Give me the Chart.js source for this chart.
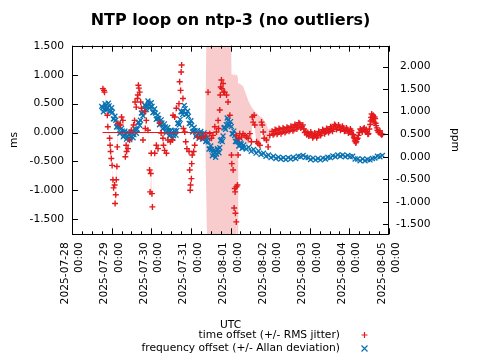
<!DOCTYPE html>
<html><head><meta charset="utf-8">
<script src="https://cdn.jsdelivr.net/npm/chart.js@4.4.1/dist/chart.umd.min.js"></script>
<style>html,body{margin:0;padding:0;background:#fff}canvas{display:block}</style>
</head><body>
<canvas id="c" width="480" height="360"></canvas>
<script>
// ---- data (hours since 2025-07-28 00:00 UTC) ----
const dayLabels = ['2025-07-28','2025-07-29','2025-07-30','2025-07-31','2025-08-01','2025-08-02','2025-08-03','2025-08-04','2025-08-05'];
const dayTimeLabel = '00:00';
const msTicks = [-1.5, -1.0, -0.5, 0, 0.5, 1.0, 1.5];
const ppmTicks = [-1.5, -1.0, -0.5, 0, 0.5, 1.0, 1.5, 2.0];

const offsetHours = [
 18.7,19.4,19.7,21.4,21.7,22.8,23.1,23.4,23.8,24.3,
 24.8,25.2,25.8,26.1,26.5,26.8,27.2,27.4,27.8,29.4,
 30.0,30.8,32.3,32.8,33.1,33.9,34.9,35.9,37.3,37.9,
 38.2,38.9,39.6,39.9,40.2,40.5,41.0,41.6,42.0,43.0,
 44.0,44.4,45.0,46.0,47.0,47.3,47.7,48.0,48.4,48.7,
 50.1,51.1,52.1,53.1,54.0,55.1,55.4,56.1,57.2,58.1,
 59.6,60.8,61.2,62.2,63.2,64.8,65.2,65.8,66.1,66.4,
 67.2,67.5,68.3,68.9,69.6,70.9,71.3,71.6,71.8,72.3,
 72.5,72.8,73.7,74.3,76.1,78.6,80.7,
 82.4,83.4,84.5,85.4,86.5,87.5,88.5,88.8,89.5,89.8,
 90.1,90.5,90.8,91.5,91.8,92.5,93.6,94.5,95.6,
 96.6,96.8,97.6,98.2,98.6,98.8,99.0,99.5,99.6,99.7,100.2,100.6,
 100.7,101.6,102.7,103.6,104.7,105.7,106.7,107.7,108.7,109.2,
 109.7,110.3,110.7,111.8,112.7,113.8,114.8,115.2,115.8,116.4,
 117.8,118.8,119.8,
 121.2,121.8,122.4,123.0,123.6,124.2,124.8,125.4,126.0,126.6,
 127.2,127.8,128.4,129.0,129.6,130.2,130.8,131.4,132.0,132.6,
 133.2,133.8,134.4,135.0,135.6,136.2,136.8,137.4,138.0,138.6,
 139.2,139.8,140.4,141.0,141.6,142.2,142.8,143.4,144.0,144.6,
 145.2,145.8,146.4,147.0,147.6,148.2,148.8,149.4,150.0,150.6,
 151.2,151.8,152.4,153.0,153.6,154.2,154.8,155.4,156.0,156.6,
 157.2,157.8,158.4,159.0,159.6,160.2,160.8,161.4,162.0,162.6,
 163.2,163.8,164.4,165.0,165.6,166.2,166.8,167.4,168.0,168.6,
 169.2,169.8,170.4,170.7,171.0,171.3,171.6,171.9,172.2,172.6,
 173.0,173.5,174.0,174.6,175.2,175.8,176.4,177.0,177.6,178.2,
 178.8,179.2,179.6,180.1,180.6,180.9,181.2,181.5,181.8,182.1,
 182.4,182.7,183.0,183.3,183.6,183.9,184.2,184.6,185.0,185.5,
 186.0,186.5,187.0,187.5,188.0
];
const offsetMs = [
 0.76,0.73,0.70,0.30,0.10,-0.10,-0.22,-0.33,-0.45,-0.57,
 -0.82,-0.96,-0.91,-1.23,-1.08,-0.82,-0.59,-0.25,0.16,0.13,
 0.27,0.21,-0.42,-0.22,-0.33,-0.28,-0.13,0.04,0.13,0.21,
 0.53,0.44,0.59,0.65,0.82,0.77,0.70,0.53,0.42,-0.13,
 0.36,0.07,0.21,0.04,-0.65,-1.03,-0.71,-0.36,-1.06,-1.29,
 -0.36,-0.22,-0.28,0.16,-0.01,-0.10,-0.22,-0.31,-0.36,-0.13,
 -0.16,-0.13,0.30,0.27,0.42,0.50,0.88,0.73,1.05,1.17,
 0.59,0.07,0.01,-0.16,-0.28,-0.33,-0.65,-1.00,-0.91,-0.80,
 -0.54,-0.39,-0.33,-0.22,-0.08,-0.10,-0.06,
 0.70,-0.02,-0.10,-0.05,0.10,0.01,0.21,0.07,0.39,0.65,
 0.79,0.91,0.76,0.85,0.70,0.70,0.65,0.53,0.30,
 -0.39,-0.54,-0.65,-1.31,-0.97,-1.03,-1.40,-1.55,-0.94,-0.05,-0.91,-0.39,
 -0.10,-0.02,-0.08,-0.02,-0.05,-0.08,-0.10,-0.02,-0.16,0.27,
 0.18,0.30,0.13,-0.16,-0.19,-0.22,0.18,0.13,0.01,-0.10,
 -0.13,-0.25,-0.05,
 0.02,-0.04,-0.02,0.05,0.04,-0.03,0.00,0.07,0.05,-0.02,
 0.01,0.08,0.06,0.00,0.02,0.09,0.08,0.02,0.04,0.11,
 0.09,0.03,0.05,0.14,0.12,0.06,0.09,0.17,0.15,0.08,
 0.10,0.13,0.06,0.00,0.02,-0.04,0.00,-0.06,-0.04,0.01,
 -0.02,-0.09,-0.07,-0.01,-0.03,-0.09,-0.06,0.02,0.00,-0.05,
 -0.02,0.05,0.03,-0.02,0.01,0.07,0.05,0.00,0.03,0.10,
 0.08,0.02,0.06,0.14,0.12,0.05,0.08,0.13,0.10,0.04,
 0.06,0.11,0.08,0.02,0.03,0.08,0.05,-0.01,0.01,0.06,
 0.03,-0.03,-0.04,-0.08,-0.10,-0.15,-0.13,-0.18,-0.16,-0.12,
 -0.10,-0.05,0.00,0.06,0.04,0.01,0.06,0.08,0.02,0.05,
 0.01,-0.03,-0.02,0.06,0.14,0.20,0.26,0.32,0.22,0.28,
 0.30,0.24,0.18,0.27,0.24,0.16,0.12,0.08,0.04,0.01,
 0.00,0.03,-0.02,-0.04,-0.03
];
// shaded band above / below each time-offset point (RMS jitter)
const jitterUpMs = [
 0.03,0.03,0.03,0.03,0.03,0.03,0.03,0.03,0.03,0.03,
 0.03,0.03,0.03,0.03,0.03,0.03,0.03,0.03,0.03,0.03,
 0.03,0.03,0.03,0.03,0.03,0.03,0.03,0.03,0.03,0.03,
 0.03,0.03,0.03,0.03,0.03,0.03,0.03,0.03,0.03,0.03,
 0.03,0.03,0.03,0.03,0.03,0.03,0.03,0.03,0.03,0.03,
 0.03,0.03,0.03,0.03,0.03,0.03,0.03,0.03,0.03,0.03,
 0.03,0.03,0.03,0.03,0.03,0.03,0.03,0.03,0.03,0.03,
 0.03,0.03,0.03,0.03,0.03,0.03,0.03,0.03,0.03,0.03,
 0.03,0.03,0.03,0.03,0.03,0.03,0.03,
 3.5,3.5,3.5,3.5,3.5,3.5,3.5,3.5,3.5,3.5,
 3.5,3.5,3.5,3.5,3.5,3.5,3.5,3.5,3.5,
 1.40,1.55,1.65,2.30,2.00,2.00,2.40,2.55,1.95,1.05,1.90,1.30,
 0.95,0.87,0.90,0.82,0.77,0.72,0.66,0.52,0.60,0.15,
 0.22,0.10,0.24,0.50,0.50,0.50,0.09,0.13,0.23,0.30,
 0.28,0.30,0.12,
 0.03,0.03,0.03,0.03,0.03,0.03,0.03,0.03,0.03,0.03,
 0.03,0.03,0.03,0.03,0.03,0.03,0.03,0.03,0.03,0.03,
 0.03,0.03,0.03,0.03,0.03,0.03,0.03,0.03,0.03,0.03,
 0.03,0.03,0.03,0.03,0.03,0.03,0.03,0.03,0.03,0.03,
 0.03,0.03,0.03,0.03,0.03,0.03,0.03,0.03,0.03,0.03,
 0.03,0.03,0.03,0.03,0.03,0.03,0.03,0.03,0.03,0.03,
 0.03,0.03,0.03,0.03,0.03,0.03,0.03,0.03,0.03,0.03,
 0.03,0.03,0.03,0.03,0.03,0.03,0.03,0.03,0.03,0.03,
 0.03,0.03,0.03,0.03,0.03,0.03,0.03,0.03,0.03,0.03,
 0.03,0.03,0.03,0.03,0.03,0.03,0.03,0.03,0.03,0.03,
 0.03,0.03,0.03,0.03,0.03,0.03,0.03,0.03,0.03,0.03,
 0.03,0.03,0.03,0.03,0.03,0.03,0.03,0.03,0.03,0.03,
 0.03,0.03,0.03,0.03,0.03
];
const jitterDownMs = [
 0.03,0.03,0.03,0.03,0.03,0.03,0.03,0.03,0.03,0.03,
 0.03,0.03,0.03,0.03,0.03,0.03,0.03,0.03,0.03,0.03,
 0.03,0.03,0.03,0.03,0.03,0.03,0.03,0.03,0.03,0.03,
 0.03,0.03,0.03,0.03,0.03,0.03,0.03,0.03,0.03,0.03,
 0.03,0.03,0.03,0.03,0.03,0.03,0.03,0.03,0.03,0.03,
 0.03,0.03,0.03,0.03,0.03,0.03,0.03,0.03,0.03,0.03,
 0.03,0.03,0.03,0.03,0.03,0.03,0.03,0.03,0.03,0.03,
 0.03,0.03,0.03,0.03,0.03,0.03,0.03,0.03,0.03,0.03,
 0.03,0.03,0.03,0.03,0.03,0.03,0.03,
 3.5,3.5,3.5,3.5,3.5,3.5,3.5,3.5,3.5,3.5,
 3.5,3.5,3.5,3.5,3.5,3.5,3.5,3.5,3.5,
 1.40,1.55,1.65,2.30,2.00,2.00,2.40,2.55,1.95,1.05,1.90,1.30,
 0.20,0.15,0.15,0.15,0.12,0.12,0.12,0.10,0.10,0.05,
 0.05,0.05,0.05,0.06,0.06,0.06,0.05,0.05,0.05,0.05,
 0.05,0.05,0.05,
 0.03,0.03,0.03,0.03,0.03,0.03,0.03,0.03,0.03,0.03,
 0.03,0.03,0.03,0.03,0.03,0.03,0.03,0.03,0.03,0.03,
 0.03,0.03,0.03,0.03,0.03,0.03,0.03,0.03,0.03,0.03,
 0.03,0.03,0.03,0.03,0.03,0.03,0.03,0.03,0.03,0.03,
 0.03,0.03,0.03,0.03,0.03,0.03,0.03,0.03,0.03,0.03,
 0.03,0.03,0.03,0.03,0.03,0.03,0.03,0.03,0.03,0.03,
 0.03,0.03,0.03,0.03,0.03,0.03,0.03,0.03,0.03,0.03,
 0.03,0.03,0.03,0.03,0.03,0.03,0.03,0.03,0.03,0.03,
 0.03,0.03,0.03,0.03,0.03,0.03,0.03,0.03,0.03,0.03,
 0.03,0.03,0.03,0.03,0.03,0.03,0.03,0.03,0.03,0.03,
 0.03,0.03,0.03,0.03,0.03,0.03,0.03,0.03,0.03,0.03,
 0.03,0.03,0.03,0.03,0.03,0.03,0.03,0.03,0.03,0.03,
 0.03,0.03,0.03,0.03,0.03
];
const zeroLineHours = [18.5, 86.5];
const zeroLineMs = [0, 0];

const freqHours = [
 18,19,20,21,22,23,24,25,26,27,28,29,30,31,32,33,34,35,36,37,
 38,39,40,41,42,43,44,45,46,47,48,49,50,51,52,53,54,55,56,57,
 58,59,60,61,62,63,64,65,66,67,68,69,70,71,72,73,74,75,76,77,
 78,79,80,81,82,83,84,85,86,87,88,89,90,91,92,93,94,95,96,97,
 98,99,100,101,102,103,104,105.5,107,108.5,110,111.5,113,114.5,116,117.5,119,120.5,
 122,123.5,125,126.5,128,129.5,131,132.5,134,135.5,137,138.5,140,141.5,143,144.5,146,147.5,149,150.5,
 152,153.5,155,156.5,158,159.5,161,162.5,164,165.5,167,168.5,170,171.5,173,174.5,176,177.5,179,180.5,
 182,183.5,185,186.5,188,
 18.5,19.5,20.5,21.5,22.5,23.5,24.5,25.5,26.5,27.5,28.5,29.5,30.5,31.5,32.5,33.5,34.5,35.5,36.5,37.5,
 38.5,39.5,40.5,41.5,42.5,43.5,44.5,45.5,46.5,47.5,48.5,49.5,50.5,51.5,52.5,53.5,54.5,55.5,56.5,57.5,
 58.5,59.5,60.5,61.5,62.5,63.5,64.5,65.5,66.5,67.5,68.5,69.5,70.5,71.5,72.5,73.5,74.5,75.5,76.5,77.5,
 78.5,79.5,80.5,81.5,82.5,83.5,84.5,85.5,86.5,87.5,88.5,89.5,90.5,91.5,92.5,93.5,94.5,95.5,96.5,97.5,
 98.5,99.5,100.5,101.5,102.5,103.5
];
const freqPpm = [
 1.12,1.00,1.18,1.04,1.19,1.00,1.09,0.84,0.90,0.66,0.74,0.52,0.63,0.44,0.57,0.39,0.54,0.38,0.55,0.42,
 0.62,0.52,0.76,0.70,0.97,0.91,1.15,1.05,1.24,1.08,1.20,0.98,1.06,0.83,0.93,0.71,0.82,0.62,0.73,0.53,
 0.65,0.46,0.59,0.41,0.58,0.48,0.74,0.71,1.00,0.94,1.14,0.94,1.01,0.74,0.80,0.55,0.65,0.45,0.58,0.41,
 0.56,0.39,0.53,0.34,0.43,0.17,0.24,0.02,0.15,-0.01,0.18,0.09,0.36,0.34,0.64,0.61,0.86,0.70,0.78,0.51,
 0.57,0.34,0.38,0.24,0.31,0.19,0.26,0.17,0.21,0.12,0.16,0.08,0.13,0.05,0.08,0.01,0.04,-0.02,
 0.01,-0.04,-0.01,-0.05,-0.02,-0.06,-0.02,-0.05,-0.01,-0.04,0.01,0.00,0.03,-0.01,-0.02,-0.06,-0.03,-0.07,-0.04,-0.07,
 -0.03,-0.05,-0.01,-0.02,0.02,0.00,0.04,0.01,0.04,0.00,0.03,0.00,0.01,-0.05,-0.05,-0.09,-0.05,-0.09,-0.06,-0.07,
 -0.04,-0.03,0.01,0.00,0.03,
 1.09,1.06,1.14,1.09,1.13,1.02,0.99,0.84,0.81,0.67,0.66,0.55,0.57,0.48,0.51,0.44,0.49,0.44,0.52,0.49,
 0.60,0.61,0.76,0.81,0.97,1.00,1.13,1.12,1.19,1.11,1.12,0.99,0.97,0.85,0.85,0.74,0.75,0.65,0.66,0.56,
 0.58,0.50,0.53,0.47,0.56,0.58,0.75,0.83,1.00,1.01,1.07,0.95,0.90,0.74,0.70,0.57,0.58,0.49,0.52,0.46,
 0.50,0.43,0.46,0.36,0.33,0.18,0.16,0.06,0.10,0.06,0.16,0.20,0.38,0.46,0.65,0.71,0.81,0.71,0.67,0.51,
 0.47,0.34,0.34,0.25,0.28,0.20
];

if (offsetMs.length !== offsetHours.length || jitterUpMs.length !== offsetHours.length ||
    jitterDownMs.length !== offsetHours.length || freqPpm.length !== freqHours.length) {
  throw new Error('length mismatch ' + offsetHours.length + ' ' + offsetMs.length + ' ' + jitterUpMs.length + ' ' +
    jitterDownMs.length + ' ' + freqHours.length + ' ' + freqPpm.length);
}

// ---- styles ----
const RED = '#e41a1c';
const BLUE = '#0a72b2';
const PINK = 'rgba(244,170,170,0.6)';
const FONT = "'DejaVu Sans', sans-serif";
const FS = 10.7;
Chart.defaults.font.family = FONT;
Chart.defaults.font.size = FS;
Chart.defaults.color = '#000';

const pts = (xs, ys) => xs.map((x, i) => ({x, y: ys[i]}));

const frame = {
  id: 'frame',
  afterDraw(chart) {
    const {ctx, chartArea: a, scales} = chart;
    ctx.save();
    ctx.strokeStyle = '#000';
    ctx.lineWidth = 1;
    ctx.beginPath();
    for (let h = 0; h <= (dayLabels.length - 1) * 24; h += 6) {
      const px = Math.round(scales.x.getPixelForValue(h)) + 0.5;
      const len = h % 24 === 0 ? 6 : 3;
      ctx.moveTo(px, a.bottom); ctx.lineTo(px, a.bottom - len);
      ctx.moveTo(px, a.top); ctx.lineTo(px, a.top + len);
    }
    scales.y.ticks.forEach(t => {
      const py = Math.round(scales.y.getPixelForValue(t.value)) + 0.5;
      ctx.moveTo(a.left, py); ctx.lineTo(a.left + 6, py);
    });
    scales.y2.ticks.forEach(t => {
      const py = Math.round(scales.y2.getPixelForValue(t.value)) + 0.5;
      ctx.moveTo(a.right, py); ctx.lineTo(a.right - 6, py);
    });
    ctx.stroke();
    ctx.strokeRect(Math.round(a.left) + 0.5, Math.round(a.top) + 0.5, Math.round(a.width) - 1, Math.round(a.height) - 1);

    // legend (right aligned text, marker to the right)
    const items = [chart.data.datasets[0], chart.data.datasets[2]];
    ctx.font = FS + 'px ' + FONT;
    ctx.textAlign = 'right';
    ctx.textBaseline = 'middle';
    ctx.fillStyle = '#000';
    items.forEach((ds, i) => {
      const y = 335 + i * 13.5;
      ctx.fillText(ds.label, 340, y);
      const mx = 364.5, r = 3;
      ctx.strokeStyle = ds.borderColor;
      ctx.lineWidth = 1.2;
      ctx.beginPath();
      if (ds.pointStyle === 'cross') {
        ctx.moveTo(mx - r, y); ctx.lineTo(mx + r, y);
        ctx.moveTo(mx, y - r); ctx.lineTo(mx, y + r);
      } else {
        ctx.moveTo(mx - r, y - r); ctx.lineTo(mx + r, y + r);
        ctx.moveTo(mx - r, y + r); ctx.lineTo(mx + r, y - r);
      }
      ctx.stroke();
    });
    ctx.restore();
  }
};

new Chart(document.getElementById('c'), {
  type: 'scatter',
  data: {
    datasets: [
      {
        label: 'time offset (+/- RMS jitter)',
        data: pts(offsetHours, offsetMs),
        yAxisID: 'y', pointStyle: 'cross', pointRadius: 3, borderColor: RED, borderWidth: 1.4,
        backgroundColor: RED
      },
      {
        label: 'zero',
        data: pts(zeroLineHours, zeroLineMs),
        yAxisID: 'y', showLine: true, pointRadius: 0, borderColor: RED, borderWidth: 1, fill: false
      },
      {
        label: 'frequency offset (+/- Allan deviation)',
        data: pts(freqHours, freqPpm),
        yAxisID: 'y2', pointStyle: 'crossRot', pointRadius: 3.5, borderColor: BLUE, borderWidth: 1.3,
        backgroundColor: BLUE
      },
      {
        label: 'jitter upper',
        data: offsetHours.map((x, i) => ({x, y: offsetMs[i] + jitterUpMs[i]})),
        yAxisID: 'y', showLine: true, pointRadius: 0, borderWidth: 0, borderColor: 'rgba(0,0,0,0)', fill: false
      },
      {
        label: 'jitter lower',
        data: offsetHours.map((x, i) => ({x, y: offsetMs[i] - jitterDownMs[i]})),
        yAxisID: 'y', showLine: true, pointRadius: 0, borderWidth: 0, borderColor: 'rgba(0,0,0,0)',
        fill: '-1', backgroundColor: PINK
      }
    ]
  },
  options: {
    responsive: false,
    animation: false,
    devicePixelRatio: 1,
    layout: {padding: {left: 0, top: 0, bottom: 0, right: 49.5}},
    plugins: {
      legend: {display: false},
      tooltip: {enabled: false},
      filler: {drawTime: 'beforeDatasetsDraw'},
      title: {
        display: true,
        text: 'NTP loop on ntp-3 (no outliers)',
        fullSize: false,
        font: {size: 16, weight: 'bold', family: FONT, lineHeight: 1.2},
        color: '#000',
        padding: {top: 10.9, bottom: 15.6}
      }
    },
    scales: {
      x: {
        type: 'linear',
        min: 0,
        max: (dayLabels.length - 1) * 24,
        grid: {display: false, drawTicks: false},
        border: {display: false},
        afterBuildTicks: s => { s.ticks = dayLabels.map((d, i) => ({value: i * 24})); },
        afterFit: s => { s.height = 125.7; },
        ticks: {
          autoSkip: false,
          minRotation: 90,
          maxRotation: 90,
          padding: 8,
          labelOffset: -7.2,
          font: {size: FS, lineHeight: 1.35},
          callback: (v, i) => [dayLabels[i], dayTimeLabel]
        },
        title: {display: true, text: 'UTC', padding: {top: 0, bottom: 28.6}, font: {size: FS}}
      },
      y: {
        position: 'left',
        min: -1.765,
        max: 1.505,
        grid: {display: false, drawTicks: false},
        border: {display: false},
        afterBuildTicks: s => { s.ticks = msTicks.map(v => ({value: v})); },
        afterFit: s => { s.width = 72; },
        ticks: {padding: 8, callback: v => v.toFixed(3)},
        title: {display: true, text: 'ms', padding: {top: 7.6, bottom: 0}, font: {size: FS}}
      },
      y2: {
        position: 'right',
        min: -1.722,
        max: 2.466,
        grid: {display: false, drawTicks: false},
        border: {display: false},
        afterBuildTicks: s => { s.ticks = ppmTicks.map(v => ({value: v})); },
        afterFit: s => { s.width = 41.5; },
        ticks: {padding: 7, crossAlign: 'far', callback: v => v.toFixed(3)},
        title: {display: true, text: 'ppm', padding: {top: -30.9, bottom: 0}, font: {size: FS}}
      }
    }
  },
  plugins: [frame]
});
</script>
</body></html>
